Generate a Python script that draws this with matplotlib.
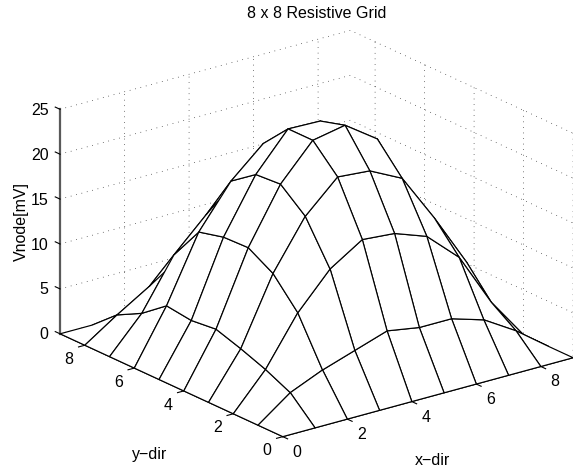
import numpy as np
import matplotlib
matplotlib.use("Agg")
import matplotlib.pyplot as plt
from matplotlib.transforms import ScaledTranslation
from mpl_toolkits.mplot3d import proj3d

plt.rcParams['font.family'] = ['Liberation Sans', 'DejaVu Sans']
plt.rcParams['font.size'] = 10
plt.rcParams['grid.color'] = 'black'
plt.rcParams['grid.linewidth'] = 0.5
plt.rcParams['grid.linestyle'] = (0, (1, 7))

# node voltages [mV], interior nodes, one list per x = 1..8 (y = 1..8)
vx1 = [2.65, 3.96, 5.0, 5.9, 5.6, 5.96, 3.85, 2.4]
vx2 = [4.2, 9.3, 12.4, 14.0, 13.9, 13.2, 9.4, 4.6]
vx3 = [5.4, 13.2, 17.8, 20.1, 19.9, 17.9, 12.9, 7.0]
vx4 = [6.6, 15.5, 21.2, 24.0, 24.0, 21.1, 16.0, 8.0]
vx5 = [6.0, 15.2, 20.9, 24.7, 23.9, 20.5, 15.0, 7.5]
vx6 = [6.0, 13.9, 19.1, 22.2, 20.0, 17.0, 12.0, 6.0]
vx7 = [4.9, 10.6, 13.7, 15.0, 14.0, 12.0, 9.0, 5.0]
vx8 = [2.7, 4.6, 7.8, 8.0, 7.0, 6.0, 4.5, 2.5]
x_nodes = [0, 1, 2, 3, 4, 5, 6, 7, 8, 9]
y_nodes = [0, 1, 2, 3, 4, 5, 6, 7, 8, 9]
x_ticks = [0, 2, 4, 6, 8]
y_ticks = [0, 2, 4, 6, 8]
z_ticks = [0, 5, 10, 15, 20, 25]

Z = np.pad(np.array([vx1, vx2, vx3, vx4, vx5, vx6, vx7, vx8]), 1)
X, Y = np.meshgrid(x_nodes, y_nodes, indexing='ij')

W, H = 573, 467
fig = plt.figure(figsize=(W / 100, H / 100), dpi=100)
ax = fig.add_axes([0, 0, 1, 1], projection='3d', proj_type='ortho')
ax.view_init(elev=30, azim=-127.5)
ax.set_box_aspect((1, 1, 1))
ax.set_xlim(0, 9, view_margin=0)
ax.set_ylim(0, 9, view_margin=0)
ax.set_zlim(0, 25, view_margin=0)

# stretch the 3D box to fill a free rectangle, as the original axes do
corners = np.array([[0, 0, 0], [9, 0, 0], [0, 9, 0], [0, 9, 25]], float)
target = np.array([[283, 437], [573, 358], [60, 333], [60, 109.5]], float)
tx, ty, _ = proj3d.proj_transform(corners[:, 0], corners[:, 1], corners[:, 2], ax.get_proj())
frac = ax.transAxes.inverted().transform(ax.transData.transform(np.c_[tx, ty]))
wx, lx = np.polyfit(frac[:, 0], target[:, 0], 1)
wy, ly = np.polyfit(frac[:, 1], H - target[:, 1], 1)
ax.set_position([lx / W, ly / H, wx / W, wy / H])
ax.apply_aspect = lambda position=None: ax._set_position(ax.get_position(original=True), 'active')

for axis in (ax.xaxis, ax.yaxis, ax.zaxis):
    axis.set_pane_color((1, 1, 1, 0))
    axis.pane.set_edgecolor((1, 1, 1, 0))
    axis.line.set_linewidth(0.8)
# the floor axes' ticks point away from the far panes, so their "inward" part is outside the box
ax.xaxis._axinfo['tick'].update(inward_factor=0.27, outward_factor=0.0)
ax.yaxis._axinfo['tick'].update(inward_factor=0.27, outward_factor=0.0)
ax.zaxis._axinfo['tick'].update(inward_factor=0.0, outward_factor=0.27)
ax.zaxis.line.set_linewidth(1.6)
ax.zaxis.line.set_color('0.35')
ax.zaxis._get_tickdir = lambda position: 1   # z ticks run along y, as in the original

ax.plot_surface(X, Y, Z, rstride=1, cstride=1, color='white', edgecolor='black',
                linewidth=0.85, shade=False, antialiased=True)

ax.set_xticks(x_ticks)
ax.set_yticks(y_ticks)
ax.set_zticks(z_ticks)
ax.tick_params(axis='both', labelsize=11.5, pad=0)


def nudge_labels(axis, dx, dy, ha='center'):
    """Shift an axis' tick labels by pixels, surviving the 3D axis' transform reset."""
    original = axis.get_major_ticks
    off = ScaledTranslation(dx / 100, dy / 100, fig.dpi_scale_trans)

    def patched(numticks=None):
        ticks = original(numticks)
        for tick in ticks:
            tick.label1.set_transform(ax.transData + off)
            tick.label1.set_ha(ha)
        return ticks
    axis.get_major_ticks = patched


nudge_labels(ax.xaxis, 5.3, 5.3)
nudge_labels(ax.yaxis, -4.3, 5.7)
nudge_labels(ax.zaxis, 9.5, 5.5, ha='right')

fig.text(317 / W, 1 - 14 / H, '8 x 8 Resistive Grid', ha='center', va='center', fontsize=11.5)
fig.text(432.5 / W, 1 - 460.5 / H, 'x\u2212dir', ha='center', va='center', fontsize=11.5)
fig.text(150 / W, 1 - 455 / H, 'y\u2212dir', ha='center', va='center', fontsize=11.5)
fig.text(21.7 / W, 1 - 221.5 / H, 'Vnode[mV]', ha='center', va='center', rotation=90, fontsize=11.5)

fig.savefig('out.png', dpi=100)
